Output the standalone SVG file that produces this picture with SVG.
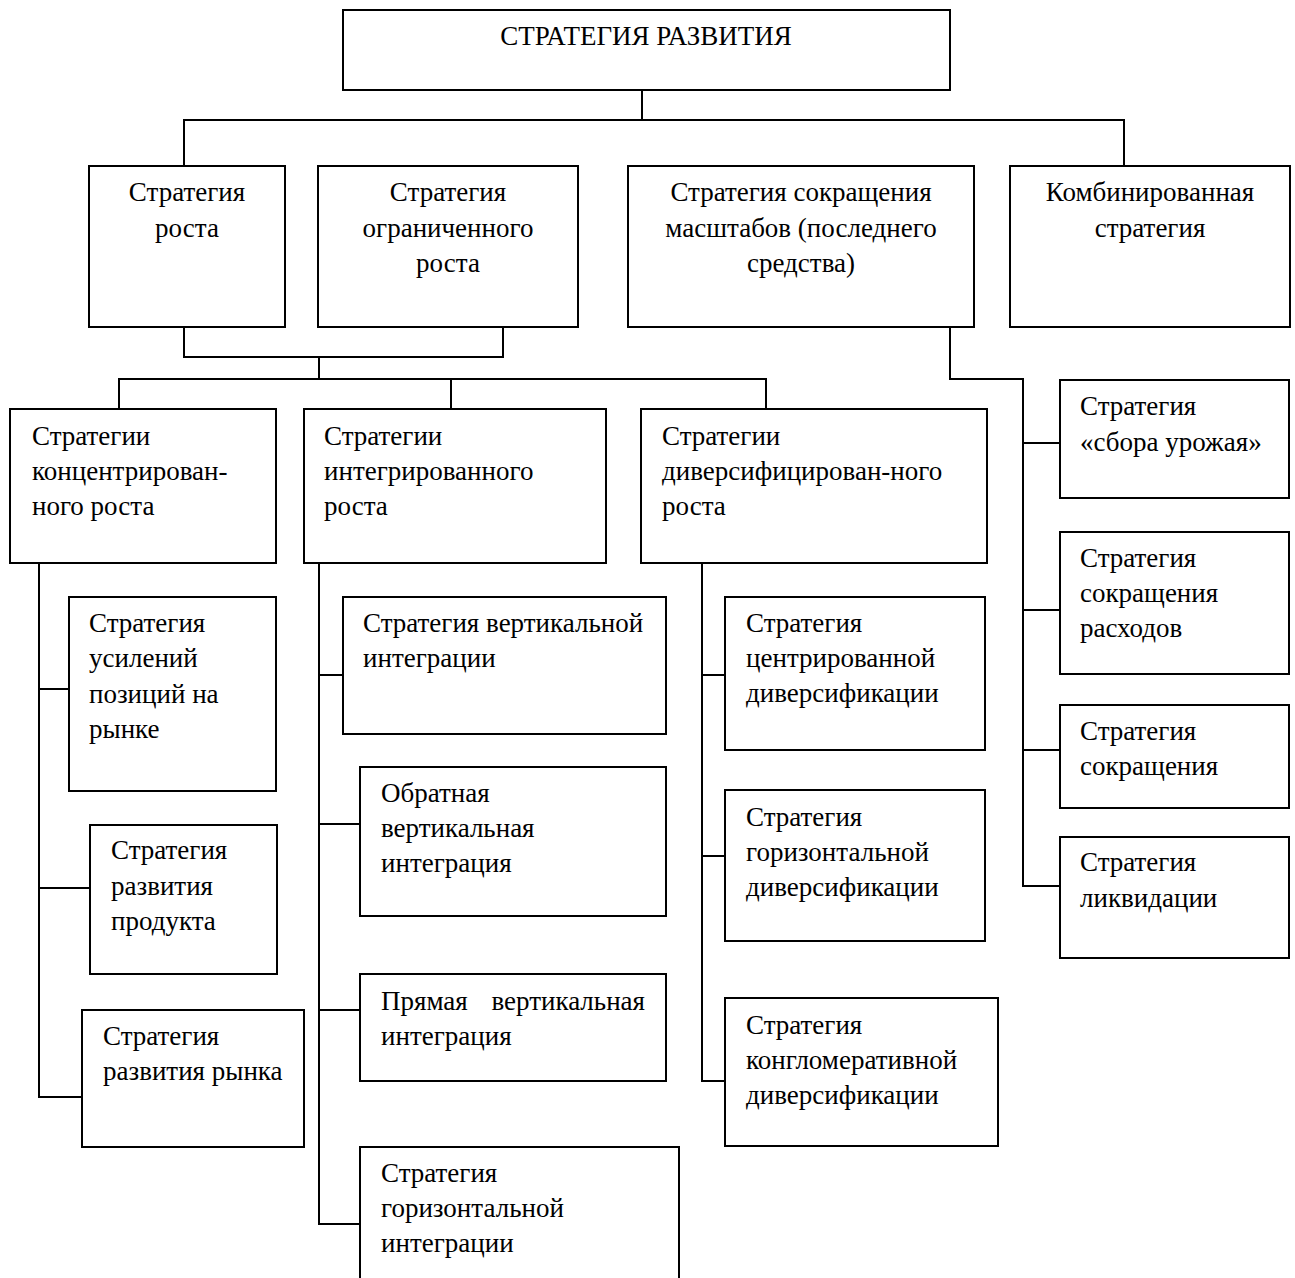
<svg xmlns="http://www.w3.org/2000/svg" width="1295" height="1278" viewBox="0 0 1295 1278">
<style>
rect{fill:#fff;stroke:#000;stroke-width:2}
.c path{fill:none;stroke:#000;stroke-width:2}
text{font-family:"Liberation Serif","Times New Roman",serif;font-size:27px;fill:#000}
.m{text-anchor:middle}
</style>
<rect x="0" y="0" width="1295" height="1278" style="fill:#fff;stroke:none"/>
<g class="c" id="connectors">
<path d="M642 90V120M184 166V120H1124V166"/>
<path d="M184 327V357H503V327M319 357V379M119 409V379H766V409M451 379V409"/>
<path d="M950 327V379H1023V886H1060M1023 443H1060M1023 610H1060M1023 750H1060"/>
<path d="M39 563V1097H82M39 689H69M39 888H90"/>
<path d="M319 563V1224H360M319 675H343M319 824H360M319 1010H360"/>
<path d="M702 563V1081H725M702 675H725M702 856H725"/>
</g>
<g id="root"><rect x="343" y="10" width="607" height="80"/><text class="m" x="646" y="45">СТРАТЕГИЯ РАЗВИТИЯ</text></g>
<g id="growth"><rect x="89" y="166" width="196" height="161"/><text class="m" x="187" y="201">Стратегия</text><text class="m" x="187" y="237">роста</text></g>
<g id="limited"><rect x="318" y="166" width="260" height="161"/><text class="m" x="448" y="201">Стратегия</text><text class="m" x="448" y="237">ограниченного</text><text class="m" x="448" y="272">роста</text></g>
<g id="reduction"><rect x="628" y="166" width="346" height="161"/><text class="m" x="801" y="201">Стратегия сокращения</text><text class="m" x="801" y="237">масштабов (последнего</text><text class="m" x="801" y="272">средства)</text></g>
<g id="combined"><rect x="1010" y="166" width="280" height="161"/><text class="m" x="1150" y="201">Комбинированная</text><text class="m" x="1150" y="237">стратегия</text></g>
<g id="concentrated"><rect x="10" y="409" width="266" height="154"/><text x="32" y="445">Стратегии</text><text x="32" y="480">концентрирован-</text><text x="32" y="515">ного роста</text></g>
<g id="integrated"><rect x="304" y="409" width="302" height="154"/><text x="324" y="445">Стратегии</text><text x="324" y="480">интегрированного</text><text x="324" y="515">роста</text></g>
<g id="diversified"><rect x="641" y="409" width="346" height="154"/><text x="662" y="445">Стратегии</text><text x="662" y="480">диверсифицирован-ного</text><text x="662" y="515">роста</text></g>
<g id="market-position"><rect x="69" y="597" width="207" height="194"/><text x="89" y="632">Стратегия</text><text x="89" y="667">усилений</text><text x="89" y="703">позиций на</text><text x="89" y="738">рынке</text></g>
<g id="product-dev"><rect x="90" y="825" width="187" height="149"/><text x="111" y="859">Стратегия</text><text x="111" y="895">развития</text><text x="111" y="930">продукта</text></g>
<g id="market-dev"><rect x="82" y="1010" width="222" height="137"/><text x="103" y="1045">Стратегия</text><text x="103" y="1080">развития рынка</text></g>
<g id="vertical"><rect x="343" y="597" width="323" height="137"/><text x="363" y="632">Стратегия вертикальной</text><text x="363" y="667">интеграции</text></g>
<g id="backward"><rect x="360" y="767" width="306" height="149"/><text x="381" y="802">Обратная</text><text x="381" y="837">вертикальная</text><text x="381" y="872">интеграция</text></g>
<g id="forward"><rect x="360" y="974" width="306" height="107"/><text x="381" y="1010">Прямая</text><text x="645" y="1010" text-anchor="end">вертикальная</text><text x="381" y="1045">интеграция</text></g>
<g id="horizontal-int"><rect x="360" y="1147" width="319" height="140"/><text x="381" y="1182">Стратегия</text><text x="381" y="1217">горизонтальной</text><text x="381" y="1252">интеграции</text></g>
<g id="centered-div"><rect x="725" y="597" width="260" height="153"/><text x="746" y="632">Стратегия</text><text x="746" y="667">центрированной</text><text x="746" y="702">диверсификации</text></g>
<g id="horizontal-div"><rect x="725" y="790" width="260" height="151"/><text x="746" y="826">Стратегия</text><text x="746" y="861">горизонтальной</text><text x="746" y="896">диверсификации</text></g>
<g id="conglomerate-div"><rect x="725" y="998" width="273" height="148"/><text x="746" y="1034">Стратегия</text><text x="746" y="1069">конгломеративной</text><text x="746" y="1104">диверсификации</text></g>
<g id="harvest"><rect x="1060" y="380" width="229" height="118"/><text x="1080" y="415">Стратегия</text><text x="1080" y="451">«сбора урожая»</text></g>
<g id="cost-cut"><rect x="1060" y="532" width="229" height="142"/><text x="1080" y="567">Стратегия</text><text x="1080" y="602">сокращения</text><text x="1080" y="637">расходов</text></g>
<g id="cutback"><rect x="1060" y="705" width="229" height="103"/><text x="1080" y="740">Стратегия</text><text x="1080" y="775">сокращения</text></g>
<g id="liquidation"><rect x="1060" y="837" width="229" height="121"/><text x="1080" y="871">Стратегия</text><text x="1080" y="907">ликвидации</text></g>
</svg>
